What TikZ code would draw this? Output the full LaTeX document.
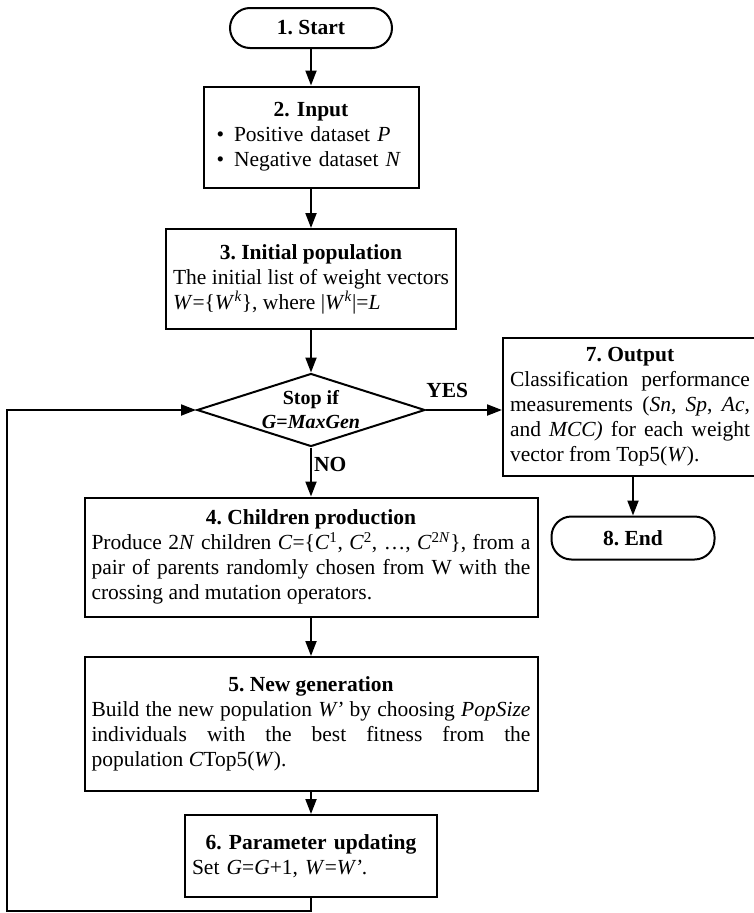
\documentclass[tikz,border=0pt]{standalone}
\usepackage{fontspec}
\setmainfont{Liberation Serif}
\usetikzlibrary{shapes.geometric,arrows.meta}
\frenchspacing

\newcommand{\boxtitle}[1]{{\centering\bfseries #1\par}}

\tikzset{
  blk/.style={draw=black,line width=2pt,fill=white,inner xsep=7pt,inner ysep=3pt,
    font=\fontsize{21.5}{25}\selectfont},
  procbox/.style={blk,align=justify},
  termbox/.style={blk,rounded corners=20pt,align=center},
  decbox/.style={blk,diamond,inner sep=0pt,shape aspect=3.1,minimum width=228pt,
    minimum height=73pt,font=\fontsize{20}{24}\selectfont},
  flow/.style={line width=2pt,-{Triangle[length=15pt,width=11pt]}},
  lbl/.style={font=\fontsize{21.5}{25}\selectfont\bfseries,inner sep=2pt}
}

\begin{document}
\begin{tikzpicture}[x=1pt,y=1pt,yscale=-1]
  \useasboundingbox (0,0) rectangle (753,913);
  \node[termbox,minimum width=162pt,minimum height=40pt] (start) at (311,28)
    {\textbf{1. Start}};
  \node[procbox,text width=201pt,minimum height=101pt,align=left] (input) at (311,137)
    {\boxtitle{2. Input}\hspace*{6pt}\textbullet\hspace{10pt}Positive dataset \textit{P}\\
     \hspace*{6pt}\textbullet\hspace{10pt}Negative dataset \textit{N}};
  \node[procbox,text width=276pt,minimum height=100pt] (init) at (311,279)
    {\boxtitle{3. Initial population}The initial list of weight vectors\linebreak
     \textit{W}=\{\textit{W}\textsuperscript{\textit{k}}\}, where
     |\textit{W}\textsuperscript{\textit{k}}|=\textit{L}};
  \node[decbox] (stop) at (311,410)
    {\smash{\raisebox{-7pt}{\begin{tabular}{@{}c@{}}\textbf{Stop if}\\
     \textbf{\textit{G}=\textit{MaxGen}}\end{tabular}}}};
  \node[procbox,text width=240pt,minimum height=138pt] (out) at (630,407)
    {\boxtitle{7. Output}Classification performance\linebreak
     measurements (\textit{Sn}, \textit{Sp}, \textit{Ac},\linebreak
     and \textit{MCC)} for each weight\linebreak
     vector from Top5(\textit{W}).};
  \node[termbox,minimum width=163pt,minimum height=43pt] (end) at (633,538)
    {\textbf{8. End}};
  \node[procbox,text width=439pt,minimum height=119pt] (child) at (311,557)
    {\boxtitle{4. Children production}Produce 2\textit{N} children
     \textit{C}=\{\textit{C}\textsuperscript{1}, \textit{C}\textsuperscript{2}, \ldots,
     \textit{C}\textsuperscript{2\textit{N}}\}, from a\linebreak
     pair of parents randomly chosen from W with the\linebreak
     crossing and mutation operators.};
  \node[procbox,text width=439pt,minimum height=134pt] (newgen) at (311,724)
    {\boxtitle{5. New generation}Build the new population \textit{W'} by choosing
     \textit{PopSize}\linebreak
     individuals with the best fitness from the\linebreak
     population \textit{C}Top5(\textit{W}).};
  \node[procbox,text width=238pt,minimum height=82pt,align=left] (update) at (311,856)
    {\boxtitle{6. Parameter updating}Set \textit{G}=\textit{G}+1,
     \textit{W}=\textit{W'}.};
  \coordinate (loopbot) at (311,911);
  \coordinate (loopleft) at (7,911);

  \draw[flow] (start) -- (input);
  \draw[flow] (input) -- (init);
  \draw[flow] (init) -- (stop);
  \draw[flow] (stop.east) -- node[lbl,pos=0.28,above=9pt] (yes) {YES}
    (stop.east -| out.west);
  \draw[flow] (stop) -- node[lbl,pos=0.35,right] (no) {NO} (child);
  \draw[flow] (end.north |- out.south) -- (end.north);
  \draw[flow] (child) -- (newgen);
  \draw[flow] (newgen) -- (update);
  \draw[flow] (update) -- (loopbot) -- (loopleft) |- (stop.west);
\end{tikzpicture}
\end{document}
